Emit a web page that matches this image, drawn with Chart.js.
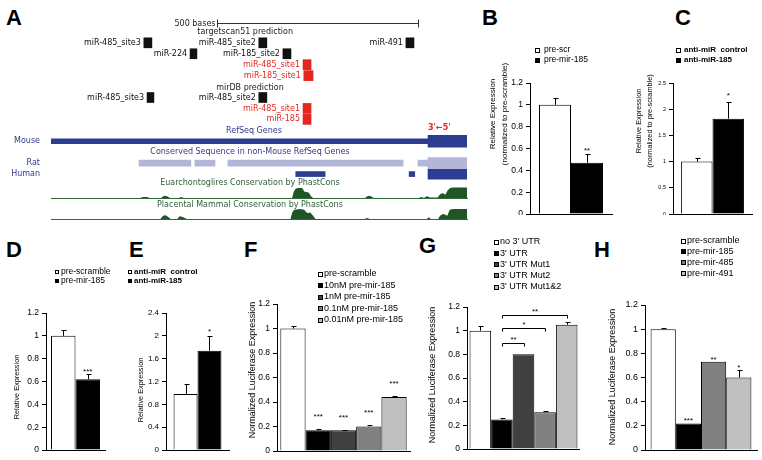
<!DOCTYPE html>
<html>
<head>
<meta charset="utf-8">
<script src="https://cdn.jsdelivr.net/npm/chart.js@4.4.1/dist/chart.umd.min.js"></script>
<style>
  html, body { margin: 0; padding: 0; background: #fff; }
  #fig { position: relative; width: 762px; height: 460px; overflow: hidden; }
  #fig canvas { position: absolute; }
  .tag { position: absolute; font: bold 22px 'Liberation Sans', Arial, sans-serif; line-height: 22px; color: #000; }
</style>
</head>
<body>
<div id="fig">
  <div class="tag" style="left:6px;top:7px">A</div>
  <div class="tag" style="left:482px;top:7px">B</div>
  <div class="tag" style="left:675px;top:7px">C</div>
  <div class="tag" style="left:6px;top:239px">D</div>
  <div class="tag" style="left:129px;top:239px">E</div>
  <div class="tag" style="left:244px;top:239px">F</div>
  <div class="tag" style="left:419px;top:235px">G</div>
  <div class="tag" style="left:594px;top:239px">H</div>
</div>
<script>
// ---- A: predicted sites on the 3' UTR (bases from start of track) ----
const tsSites = ['miR-485_site3', 'miR-485_site2', 'miR-491', 'miR-224', 'miR-185_site2', 'miR-485_site1', 'miR-185_site1'];
const tsStart = [231, 517, 883, 346, 577, 627, 629];
const tsEnd   = [251, 537, 903, 363, 597, 647, 652];
const tsRow   = [0, 0, 0, 1, 1, 2, 3];
const tsHit   = [0, 0, 0, 0, 0, 1, 1];

const dbSites = ['miR-485_site3', 'miR-485_site2', 'miR-485_site1', 'miR-185'];
const dbStart = [239, 517, 627, 627];
const dbEnd   = [256, 537, 647, 647];
const dbRow   = [5, 5, 6, 7];
const dbHit   = [0, 0, 1, 1];

const mouseUtr = [[0, 938]];
const mouseCds = [[938, 1035]];
const ratUtr   = [[219, 348], [358, 408], [440, 876], [913, 938]];
const ratCds   = [[938, 1035]];
const humanUtr = [[609, 682], [891, 905]];
const humanCds = [[938, 1035]];

const euPos = [0, 221, 229, 239, 246, 274, 281, 289, 296, 318, 323, 331, 600, 604, 609, 614, 625, 630, 635, 641, 647, 652, 781, 789, 796, 803, 915, 922, 928, 935, 943, 962, 968, 975, 981, 987, 993, 1000, 1035];
const euVal = [0, 0, .1, .1, 0, 0, .2, .15, 0, 0, .1, 0, 0, .6, .85, .9, .9, .6, .55, .5, .15, 0, 0, .2, .15, 0, 0, .1, 0, .15, .05, .05, .35, .45, .3, .7, .9, .95, .95];
const plPos = [0, 272, 279, 285, 291, 298, 314, 320, 326, 333, 338, 596, 600, 605, 620, 630, 636, 640, 645, 652, 658, 780, 786, 793, 935, 940, 945, 963, 968, 975, 980, 986, 992, 1000, 1035];
const plVal = [0, 0, .3, .35, .2, 0, 0, .25, .2, .1, 0, 0, .6, .85, .9, .85, .6, .55, .6, .3, 0, 0, .1, 0, 0, .15, 0, 0, .3, .45, .4, .3, .85, .9, .9];

// ---- B..H: bar panels ----
const bSeries = ['pre-scr', 'pre-mir-185'];
const bValues = [1.0, 0.47];
const bErr    = [0.06, 0.08];
const bStars  = ['', '**'];

const cSeries = ['anti-miR  control', 'anti-miR-185'];
const cValues = [1.0, 1.82];
const cErr    = [0.06, 0.31];
const cStars  = ['', '*'];

const dSeries = ['pre-scramble', 'pre-mir-185'];
const dValues = [1.0, 0.62];
const dErr    = [0.05, 0.05];
const dStars  = ['', '***'];

const eSeries = ['anti-miR  control', 'anti-miR-185'];
const eValues = [0.98, 1.74];
const eErr    = [0.18, 0.26];
const eStars  = ['', '*'];

const fSeries = ['pre-scramble', '10nM pre-mir-185', '1nM pre-mir-185', '0.1nM pre-mir-185', '0.01nM pre-mir-185'];
const fValues = [1.0, 0.17, 0.17, 0.2, 0.44];
const fErr    = [0.02, 0.01, 0.005, 0.015, 0.01];
const fStars  = ['', '***', '***', '***', '***'];

const gSeries = ["no 3' UTR", "3' UTR", "3' UTR Mut1", "3' UTR Mut2", "3' UTR Mut1&2"];
const gValues = [1.0, 0.25, 0.8, 0.31, 1.05];
const gErr    = [0.04, 0.01, 0, 0.01, 0.02];
const gFrom   = [1, 1, 1];
const gTo     = [2, 3, 4];
const gAt     = [0.9, 1.02, 1.13];
const gMark   = ['**', '*', '**'];

const hSeries = ['pre-scramble', 'pre-mir-185', 'pre-mir-485', 'pre-mir-491'];
const hValues = [1.0, 0.22, 0.73, 0.6];
const hErr    = [0.01, 0, 0, 0.06];
const hStars  = ['', '***', '**', '*'];

const DEJAVU = "'DejaVu Sans', Verdana, sans-serif";
const SANS = "'Liberation Sans', Arial, sans-serif";
const RED = '#e3261e', BLUE = '#33398a', DARKBLUE = '#2d3e92', LAV = '#b4b6d8', GREEN = '#1f5626';

const fig = document.getElementById('fig');
function addCanvas(box) {
  const c = document.createElement('canvas');
  c.width = box[2]; c.height = box[3];
  c.style.left = box[0] + 'px'; c.style.top = box[1] + 'px';
  fig.appendChild(c);
  return c;
}

// ---------- panel A ----------
const trackLayout = {
  titles: [
    { text: 'targetscan51 prediction', row: -1, at: 483, color: '#222' },
    { text: 'mirDB prediction', row: 4.1, at: 495, color: '#222' },
    { text: 'RefSeq Genes', row: 8.1, at: 505, color: BLUE },
    { text: 'Conserved Sequence in non-Mouse RefSeq Genes', row: 10, at: 495, color: BLUE },
    { text: 'Euarchontoglires Conservation by PhastCons', row: 12.8, at: 495, color: '#2f5e3a' },
    { text: 'Placental Mammal Conservation by PhastCons', row: 14.8, at: 495, color: '#2f5e3a' }
  ],
  species: [{ name: 'Mouse', row: 9 }, { name: 'Rat', row: 11 }, { name: 'Human', row: 12 }],
  scale: { from: 413, to: 913, row: -1.8, text: '500 bases' },
  strand: { at: 938, row: 7.8, text: "3'\u21905'" }
};

const trackDeco = {
  id: 'trackDeco',
  afterDatasetsDraw(chart) {
    const ctx = chart.ctx, xs = chart.scales.x, ys = chart.scales.y;
    const px = b => xs.getPixelForValue(b), py = r => ys.getPixelForValue(r);
    ctx.save();
    ctx.font = '8px ' + DEJAVU;
    ctx.textBaseline = 'middle';
    // site names just left of their boxes
    ctx.textAlign = 'right';
    [[tsSites, tsStart, tsRow, tsHit], [dbSites, dbStart, dbRow, dbHit]].forEach(([names, st, rows, hit]) => {
      names.forEach((n, i) => {
        ctx.fillStyle = hit[i] ? RED : '#111';
        ctx.fillText(n, px(st[i]) - 3, py(rows[i]));
      });
    });
    ctx.textAlign = 'center';
    trackLayout.titles.forEach(t => { ctx.fillStyle = t.color; ctx.fillText(t.text, px(t.at), py(t.row)); });
    ctx.textAlign = 'right';
    ctx.fillStyle = BLUE;
    trackLayout.species.forEach(s => ctx.fillText(s.name, chart.chartArea.left - 11, py(s.row)));
    // scale bar
    const sc = trackLayout.scale;
    const sy = Math.round(py(sc.row)) + 0.5, sa = Math.round(px(sc.from)) + 0.5, sb = Math.round(px(sc.to)) + 0.5;
    ctx.strokeStyle = '#333'; ctx.lineWidth = 1;
    ctx.beginPath();
    ctx.moveTo(sa, sy); ctx.lineTo(sb, sy);
    ctx.moveTo(sa, sy - 4); ctx.lineTo(sa, sy + 4);
    ctx.moveTo(sb, sy - 4); ctx.lineTo(sb, sy + 4);
    ctx.stroke();
    ctx.fillStyle = '#222';
    ctx.fillText(sc.text, sa - 2, sy);
    // strand direction
    ctx.font = 'bold 8px ' + DEJAVU;
    ctx.fillStyle = RED; ctx.textAlign = 'left';
    ctx.fillText(trackLayout.strand.text, px(trackLayout.strand.at), py(trackLayout.strand.row));
    ctx.restore();
  }
};

const seg = (list, row) => list.map(s => ({ x: s, y: row }));
new Chart(addCanvas([0, 0, 480, 215]), {
  type: 'bar',
  data: {
    datasets: [
      { data: tsStart.map((s, i) => ({ x: [s, tsEnd[i]], y: tsRow[i] })), backgroundColor: tsHit.map(h => h ? RED : '#111'), barThickness: 10 },
      { data: dbStart.map((s, i) => ({ x: [s, dbEnd[i]], y: dbRow[i] })), backgroundColor: dbHit.map(h => h ? RED : '#111'), barThickness: 10 },
      { data: seg(mouseUtr, 9), backgroundColor: DARKBLUE, barThickness: 5 },
      { data: seg(mouseCds, 9), backgroundColor: DARKBLUE, barThickness: 12 },
      { data: seg(ratUtr, 11), backgroundColor: LAV, barThickness: 6 },
      { data: seg(ratCds, 11), backgroundColor: LAV, barThickness: 11 },
      { data: seg(humanUtr, 12), backgroundColor: DARKBLUE, barThickness: 5 },
      { data: seg(humanCds, 12), backgroundColor: DARKBLUE, barThickness: 10 }
    ]
  },
  options: {
    indexAxis: 'y',
    responsive: false, animation: false,
    datasets: { bar: { grouped: false, borderWidth: 0 } },
    layout: { padding: { left: 51, right: 13, top: 10, bottom: 30 } },
    scales: {
      x: { type: 'linear', min: 0, max: 1035, display: false },
      y: { type: 'linear', min: -3, max: 13, reverse: true, offset: false, display: false }
    },
    plugins: { legend: { display: false }, tooltip: { enabled: false } }
  },
  plugins: [trackDeco]
});

function consTrack(box, pos, val) {
  new Chart(addCanvas(box), {
    type: 'line',
    data: { datasets: [{ data: pos.map((x, i) => ({ x, y: val[i] })), fill: 'origin', backgroundColor: GREEN, borderWidth: 0, pointRadius: 0 }] },
    options: {
      responsive: false, animation: false,
      layout: { padding: { left: 51, right: 13, top: 2, bottom: 3 } },
      scales: {
        x: { type: 'linear', min: 0, max: 1035, grid: { display: false, drawTicks: false }, ticks: { display: false }, border: { color: '#2d6a34' } },
        y: { min: 0, max: 1, display: false }
      },
      plugins: { legend: { display: false }, tooltip: { enabled: false } }
    }
  });
}
consTrack([0, 185, 480, 16], euPos, euVal);
consTrack([0, 206, 480, 16], plPos, plVal);

// ---------- bar panels ----------
function makeDeco(p) {
  return {
    id: 'deco',
    afterDatasetsDraw(chart) {
      const ctx = chart.ctx, ys = chart.scales.y, L = p.box[0], T = p.box[1];
      ctx.save();
      ctx.strokeStyle = '#000'; ctx.fillStyle = '#000'; ctx.lineWidth = 1;
      // error bars and stars
      chart.data.datasets.forEach((ds, i) => {
        const bar = chart.getDatasetMeta(i).data[0];
        const e = p.err[i] || 0;
        const top = Math.round(ys.getPixelForValue(ds.data[0] + e)) + 0.5;
        const x = Math.round(bar.x) + 0.5;
        if (e > 0) {
          ctx.beginPath();
          ctx.moveTo(x, bar.y); ctx.lineTo(x, top);
          ctx.moveTo(x - 2, top); ctx.lineTo(x + 3, top);
          ctx.stroke();
        }
        if (p.stars && p.stars[i]) {
          ctx.font = '8px ' + SANS; ctx.textAlign = 'center'; ctx.textBaseline = 'alphabetic';
          ctx.fillText(p.stars[i], bar.x, top - p.starGap + 4.5);
        }
      });
      // comparison brackets
      if (p.brackets) {
        const br = p.brackets;
        br.from.forEach((f, k) => {
          const a = Math.round(chart.getDatasetMeta(f).data[0].x) + 0.5;
          const b = Math.round(chart.getDatasetMeta(br.to[k]).data[0].x) + 0.5;
          const yy = Math.round(ys.getPixelForValue(br.at[k])) + 0.5;
          ctx.beginPath();
          ctx.moveTo(a, yy + 3); ctx.lineTo(a, yy); ctx.lineTo(b, yy); ctx.lineTo(b, yy + 3);
          ctx.stroke();
          ctx.font = '8px ' + SANS; ctx.textAlign = 'center'; ctx.textBaseline = 'alphabetic';
          ctx.fillText(br.mark[k], (a + b) / 2, yy - 6 + 4.5);
        });
      }
      // legend
      const lg = p.legend;
      ctx.font = (lg.bold ? 'bold ' : '') + lg.size + 'px ' + SANS;
      ctx.textAlign = 'left'; ctx.textBaseline = 'middle';
      chart.data.datasets.forEach((ds, i) => {
        const y = lg.y - T + i * lg.dy, x = lg.x - L;
        const y0 = Math.round(y - lg.box / 2);
        ctx.fillStyle = ds.backgroundColor;
        ctx.fillRect(x, y0, lg.box, lg.box);
        ctx.strokeStyle = '#000';
        ctx.strokeRect(x + 0.5, y0 + 0.5, lg.box - 1, lg.box - 1);
        ctx.fillStyle = '#000';
        ctx.fillText(ds.label, lg.tx - L, y);
      });
      // rotated axis title
      const t = p.title;
      ctx.font = t.size + 'px ' + SANS;
      ctx.textAlign = 'center'; ctx.textBaseline = 'middle';
      t.lines.forEach((line, k) => {
        ctx.save();
        ctx.translate(t.x[k] - L, t.y - T);
        ctx.rotate(-Math.PI / 2);
        ctx.fillText(line, 0, 0);
        ctx.restore();
      });
      ctx.restore();
    }
  };
}

function barPanel(p) {
  const [L, T, W, H] = p.box, [x0, y0, x1, y1] = p.area;
  const cv = addCanvas(p.box);
  if (p.clipBottom) cv.style.clipPath = 'inset(0 0 ' + p.clipBottom + 'px 0)';
  new Chart(cv, {
    type: 'bar',
    data: {
      labels: [''],
      datasets: p.series.map((s, i) => ({
        label: s, data: [p.values[i]],
        backgroundColor: p.colors[i], borderColor: '#000', borderWidth: 1,
        categoryPercentage: p.cat, barPercentage: 1
      }))
    },
    options: {
      responsive: false, animation: false,
      layout: { padding: { left: 0, top: y0 - T, right: L + W - x1, bottom: T + H - y1 } },
      scales: {
        x: { grid: { display: false, drawTicks: false }, ticks: { display: false }, border: { color: '#000' } },
        y: {
          min: 0, max: p.yMax,
          ticks: { stepSize: p.yStep, color: '#000', padding: 3, font: { family: SANS, size: p.tick }, callback: v => String(+v.toFixed(2)) },
          grid: { drawOnChartArea: false, tickLength: 4, color: '#000' },
          border: { color: '#000' },
          afterFit: s => { s.width = x0 - L; }
        }
      },
      plugins: { legend: { display: false }, tooltip: { enabled: false } }
    },
    plugins: [makeDeco(p)]
  });
}

const twoTone = ['#ffffff', '#000000'];
const greys = ['#ffffff', '#000000', '#404040', '#808080', '#bfbfbf'];

barPanel({ box: [480, 35, 140, 190], area: [530, 83, 612, 214], clipBottom: 10, cat: 0.78,
  series: bSeries, values: bValues, err: bErr, stars: bStars, colors: twoTone, starGap: 6,
  yMax: 1.2, yStep: 0.2, tick: 8.5,
  title: { lines: ['Relative Expression', '(normalized to pre-scramble)'], x: [493, 505], y: 114, size: 8 },
  legend: { x: 535, y: 50, dy: 10, box: 5, tx: 544, size: 8.5 } });

barPanel({ box: [620, 35, 142, 190], area: [673, 83, 752, 214], clipBottom: 10, cat: 0.8,
  series: cSeries, values: cValues, err: cErr, stars: cStars, colors: twoTone, starGap: 9,
  yMax: 2.5, yStep: 0.5, tick: 5.5,
  title: { lines: ['Relative Expression', '(normalized to pre-scramble)'], x: [639, 650], y: 121, size: 7.3 },
  legend: { x: 676, y: 50, dy: 10, box: 5, tx: 684, size: 8, bold: true } });

barPanel({ box: [0, 262, 125, 198], area: [46, 313, 105, 450], cat: 0.83,
  series: dSeries, values: dValues, err: dErr, stars: dStars, colors: twoTone, starGap: 5,
  yMax: 1.2, yStep: 0.2, tick: 8.5,
  title: { lines: ['Relative Expression'], x: [17], y: 387, size: 7.3 },
  legend: { x: 55, y: 272, dy: 9, box: 4, tx: 61, size: 8.5 } });

barPanel({ box: [125, 262, 115, 198], area: [166, 313, 229, 450], cat: 0.76,
  series: eSeries, values: eValues, err: eErr, stars: eStars, colors: twoTone, starGap: 7,
  yMax: 2.4, yStep: 0.4, tick: 8,
  title: { lines: ['Relative Expression'], x: [141], y: 390, size: 7.3 },
  legend: { x: 128, y: 272, dy: 9, box: 4, tx: 134, size: 8, bold: true } });

barPanel({ box: [240, 262, 175, 198], area: [277, 304, 410, 451], cat: 0.95,
  series: fSeries, values: fValues, err: fErr, stars: fStars, colors: greys, starGap: 15,
  yMax: 1.2, yStep: 0.2, tick: 8.5,
  title: { lines: ['Normalized Luciferase Expression'], x: [253], y: 370, size: 9 },
  legend: { x: 318, y: 274, dy: 11.5, box: 5, tx: 324, size: 9 } });

barPanel({ box: [415, 230, 165, 230], area: [467, 307, 580, 449], cat: 0.955,
  series: gSeries, values: gValues, err: gErr, colors: greys, starGap: 5,
  brackets: { from: gFrom, to: gTo, at: gAt, mark: gMark },
  yMax: 1.2, yStep: 0.2, tick: 8.5,
  title: { lines: ['Normalized Luciferase Expression'], x: [433], y: 375, size: 9 },
  legend: { x: 494, y: 242, dy: 11.25, box: 5, tx: 500, size: 9 } });

barPanel({ box: [580, 230, 182, 230], area: [645, 305, 757, 450], cat: 0.9,
  series: hSeries, values: hValues, err: hErr, stars: hStars, colors: ['#ffffff', '#000000', '#808080', '#bfbfbf'], starGap: 5,
  yMax: 1.2, yStep: 0.2, tick: 9,
  title: { lines: ['Normalized Luciferase Expression'], x: [613], y: 377, size: 9 },
  legend: { x: 681, y: 241, dy: 10.7, box: 5, tx: 687, size: 9 } });
</script>
</body>
</html>
